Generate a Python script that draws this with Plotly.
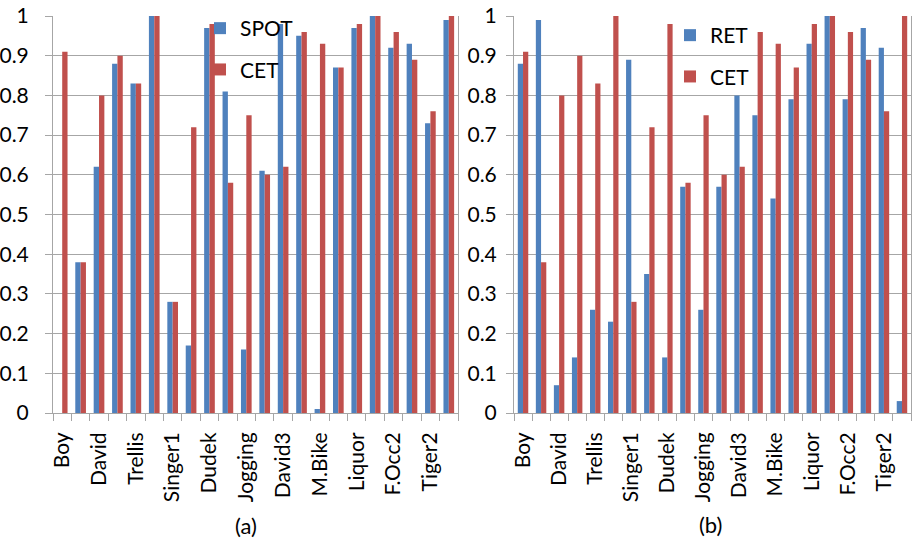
import plotly.graph_objects as go

tick_labels = ["Boy", "David", "Trellis", "Singer1", "Dudek", "Jogging",
               "David3", "M.Bike", "Liquor", "F.Occ2", "Tiger2"]
n_seq = 22
spot = [0.0, 0.38, 0.62, 0.88, 0.83, 1.0, 0.28, 0.17, 0.97, 0.81, 0.16,
        0.61, 0.98, 0.95, 0.01, 0.87, 0.97, 1.0, 0.92, 0.93, 0.73, 0.99]
cet_a = [0.91, 0.38, 0.80, 0.90, 0.83, 1.0, 0.28, 0.72, 0.98, 0.58, 0.75,
         0.60, 0.62, 0.96, 0.93, 0.87, 0.98, 1.0, 0.96, 0.89, 0.76, 1.0]
ret = [0.88, 0.99, 0.07, 0.14, 0.26, 0.23, 0.89, 0.35, 0.14, 0.57, 0.26,
       0.57, 0.80, 0.75, 0.54, 0.79, 0.93, 1.0, 0.79, 0.97, 0.92, 0.03]
cet_b = [0.91, 0.38, 0.80, 0.90, 0.83, 1.0, 0.28, 0.72, 0.98, 0.58, 0.75,
         0.60, 0.62, 0.96, 0.93, 0.87, 0.98, 1.0, 0.96, 0.89, 0.76, 1.0]

BLUE = "#4F81BD"
RED = "#C0504D"
GRID = "#A6A6A6"
FONT = "Lato"
FS = 21

W, H = 916, 541

x = list(range(n_seq))
tickvals = x[::2]

fig = go.Figure()
fig.add_trace(go.Bar(x=x, y=spot, name="SPOT", marker_color=BLUE, marker_line_width=0,
                     xaxis="x", yaxis="y", legend="legend", legendgroup="a1"))
fig.add_trace(go.Bar(x=x, y=cet_a, name="CET", marker_color=RED, marker_line_width=0,
                     xaxis="x", yaxis="y", legend="legend", legendgroup="a2"))
fig.add_trace(go.Bar(x=x, y=ret, name="RET", marker_color=BLUE, marker_line_width=0,
                     xaxis="x2", yaxis="y2", legend="legend2", legendgroup="b1"))
fig.add_trace(go.Bar(x=x, y=cet_b, name="CET", marker_color=RED, marker_line_width=0,
                     xaxis="x2", yaxis="y2", legend="legend2", legendgroup="b2"))

def xax(domain, anchor):
    return dict(domain=domain, anchor=anchor, range=[-0.5, n_seq - 0.5],
                tickmode="array", tickvals=tickvals, ticktext=tick_labels,
                tickangle=-90, ticks="", showgrid=False, zeroline=False,
                showline=True, linecolor=GRID, linewidth=1, mirror=False,
                tickfont=dict(size=FS, color="#000000", family=FONT),
                ticklabelstandoff=10,
                automargin=False,
                minor=dict(tickmode="linear", tick0=-0.5, dtick=1, ticks="outside",
                           ticklen=7, tickcolor=GRID, tickwidth=1, showgrid=False))

def yax(domain, anchor, standoff):
    return dict(domain=domain, anchor=anchor, range=[0, 1], dtick=0.1,
                showgrid=True, gridcolor=GRID, gridwidth=1, zeroline=False,
                showline=True, linecolor=GRID, linewidth=1, mirror=True,
                ticks="outside", ticklen=7, tickcolor=GRID,
                tickfont=dict(size=FS, color="#000000", family=FONT),
                ticklabelstandoff=standoff,
                automargin=False)

ydom = [1 - 413 / H, 1 - 16 / H]
fig.update_layout(
    width=W, height=H,
    margin=dict(l=0, r=0, t=0, b=0),
    paper_bgcolor="white", plot_bgcolor="white",
    barmode="group", bargap=0.42, bargroupgap=0,
    font=dict(family=FONT, size=FS, color="#000000"),
    xaxis=xax([53 / W, 458 / W], "y"),
    yaxis=yax(ydom, "x", 12),
    xaxis2=xax([514 / W, 911 / W], "y2"),
    yaxis2=yax(ydom, "x2", 5),
    legend=dict(x=200 / W, y=1 - 8 / H, xanchor="left", yanchor="top",
                bgcolor="rgba(255,255,255,0)", tracegroupgap=11,
                font=dict(size=FS, family=FONT), itemwidth=30),
    legend2=dict(x=670 / W, y=1 - 15 / H, xanchor="left", yanchor="top",
                 bgcolor="rgba(255,255,255,0)", tracegroupgap=11,
                 font=dict(size=FS, family=FONT), itemwidth=30),
    showlegend=True,
    annotations=[
        dict(text="(a)", x=246 / W, y=1 - 525 / H, xref="paper", yref="paper",
             xanchor="center", yanchor="middle",
             showarrow=False, font=dict(size=22, family=FONT)),
        dict(text="(b)", x=710 / W, y=1 - 524 / H, xref="paper", yref="paper",
             xanchor="center", yanchor="middle",
             showarrow=False, font=dict(size=22, family=FONT)),
    ],
)

fig.write_html("out.html", config={"displayModeBar": False},
               post_script="document.body.style.margin='0';document.body.style.padding='0';")
